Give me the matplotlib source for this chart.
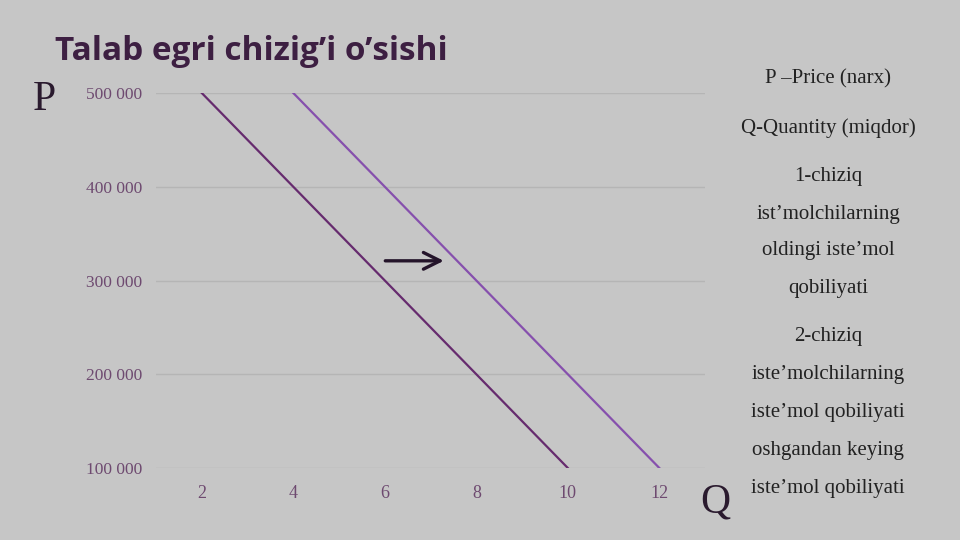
import matplotlib.pyplot as plt

# ma'lumotlar
q_old = [2, 10]
p_old = [500000, 100000]
q_new = [4, 12]
p_new = [500000, 100000]
x_ticks = [2, 4, 6, 8, 10, 12]
y_ticks = [100000, 200000, 300000, 400000, 500000]
y_labels = ["100 000", "200 000", "300 000", "400 000", "500 000"]
notes = ["P \u2013Price (narx)", "Q-Quantity (miqdor)", "1-chiziq",
         "ist\u2019molchilarning", "oldingi iste\u2019mol", "qobiliyati",
         "2-chiziq", "iste\u2019molchilarning", "iste\u2019mol qobiliyati",
         "oshgandan keying", "iste\u2019mol qobiliyati"]
note_y = [77, 126, 174, 212, 249, 287, 335, 373, 411, 448, 486]

bg = "#c6c6c6"
fig = plt.figure(figsize=(9.6, 5.4), dpi=100, facecolor=bg)
ax = fig.add_axes([0.1625, 0.1333, 0.572, 0.6945], facecolor=bg)

ax.plot(q_old, p_old, color="#662b6e", lw=1.6)
ax.plot(q_new, p_new, color="#8650ad", lw=1.6)

ax.set_xlim(1, 13)
ax.set_ylim(100000, 500000)
ax.set_xticks(x_ticks)
ax.set_yticks(y_ticks)
ax.set_yticklabels(y_labels)
ax.tick_params(length=0, labelcolor="#6e4a70")
ax.tick_params(axis="y", labelsize=12.5, pad=10)
ax.tick_params(axis="x", labelsize=13, pad=12)
for lab in ax.get_xticklabels() + ax.get_yticklabels():
    lab.set_family("Liberation Serif")
ax.grid(axis="y", color="#b5b5b5", lw=1)
for s in ax.spines.values():
    s.set_visible(False)

# strelka
ax.annotate("", xy=(7.35, 321000), xytext=(5.95, 321000),
            arrowprops=dict(arrowstyle="->", color="#24142a", lw=2.4, mutation_scale=30))

fig.text(55 / 960, 1 - 52 / 540, "Talab egri chizig\u2019i o\u2019sishi", fontsize=24,
         fontweight="bold", family="Open Sans", color="#3d1f42", va="center", ha="left")
fig.text(33 / 960, 1 - 100 / 540, "P", fontsize=30, family="Liberation Serif",
         color="#2a1a2e", va="center", ha="left")
fig.text(700 / 960, 1 - 502 / 540, "Q", fontsize=30, family="Liberation Serif",
         color="#2a1a2e", va="center", ha="left")

for t, y in zip(notes, note_y):
    fig.text(828 / 960, 1 - (y + 2) / 540, t, fontsize=15, family="Liberation Serif",
             color="#222222", ha="center", va="center")

fig.savefig("out.png", dpi=100, facecolor=bg)
